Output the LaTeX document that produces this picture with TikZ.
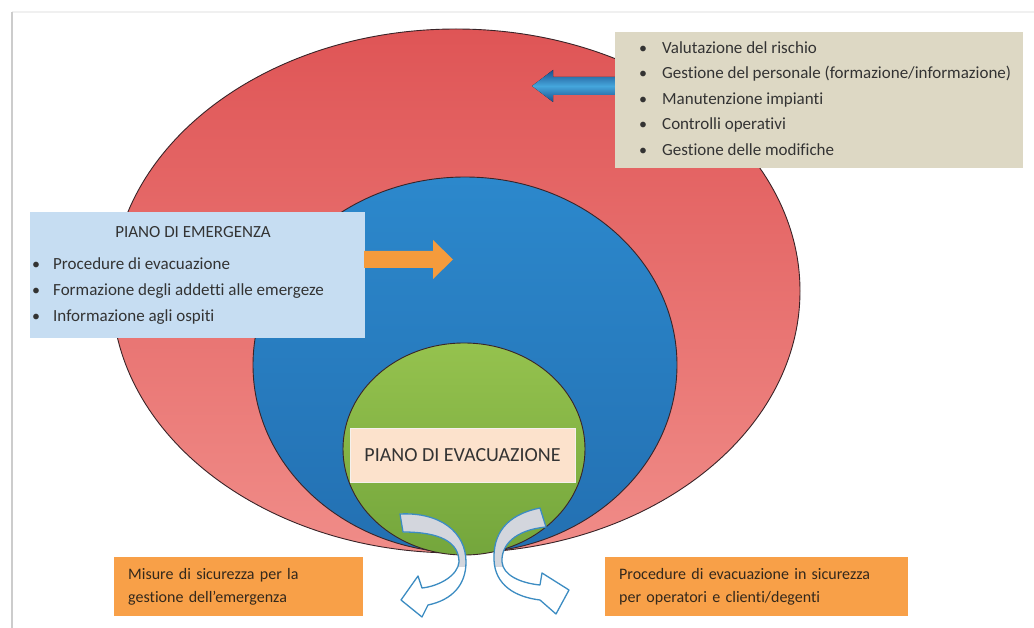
\documentclass[tikz,border=0pt]{standalone}
\usepackage{fontspec}
\setmainfont{Carlito}[Ligatures=NoCommon]
\usetikzlibrary{shapes.geometric}
\definecolor{redtop}{HTML}{DF5556}
\definecolor{redbot}{HTML}{F08C88}
\definecolor{bluetop}{HTML}{2C88CC}
\definecolor{bluebot}{HTML}{2370B2}
\definecolor{greentop}{HTML}{95C24E}
\definecolor{greenbot}{HTML}{74A63C}
\definecolor{beige}{HTML}{DDD8C4}
\definecolor{lightblue}{HTML}{C6DDF2}
\definecolor{peach}{HTML}{FCE2CC}
\definecolor{orangebox}{HTML}{F8A048}
\definecolor{orangearr}{HTML}{F59B3C}
\definecolor{txtgray}{HTML}{333333}
\definecolor{txtbrown}{HTML}{33281C}
\definecolor{navy}{HTML}{1B4F8C}
\definecolor{midblue}{HTML}{45A6DC}
\definecolor{arrgray}{HTML}{D3D6DD}
\definecolor{arrblue}{HTML}{3C8CC2}
\definecolor{outline}{HTML}{3A2428}
\newcommand{\curvL}[1]{\path[#1] (400,514) .. controls (440,512) and (466,532) .. (466,562) .. controls (466,585) and (452,600) .. (428,605) -- (422,617) -- (401,600) -- (418,576) -- (422,588) .. controls (440,586) and (458,575) .. (459,562) .. controls (459,542) and (440,532) .. (403,532) -- cycle;}
\newcommand{\curvR}[1]{\path[#1] (540,508) .. controls (505,515) and (493,535) .. (494,560) .. controls (495,585) and (515,597) .. (540,600) -- (556,614) -- (569,590) -- (542,573) -- (540,585) .. controls (520,583) and (503,575) .. (502,562) .. controls (501,545) and (515,530) .. (546,527) -- cycle;}
\begin{document}
\begin{tikzpicture}[x=1pt,y=-1pt,
  ell/.style={ellipse, draw=outline, line width=0.9pt, inner sep=0pt, outer sep=0pt},
  listbox/.style={rectangle, inner sep=0pt, outer sep=0pt, anchor=north west},
  itm/.style={anchor=base west, inner sep=0pt, text=txtgray, font=\fontsize{17}{20}\selectfont},
  bul/.style={anchor=base, inner sep=0pt, text=txtgray, font=\fontsize{16}{18}\selectfont},
  orbox/.style={rectangle, fill=orangebox, anchor=north west, inner xsep=14pt, inner ysep=0pt,
     align=left, text=txtbrown, font=\fontsize{16}{23}\selectfont},
]
\useasboundingbox (0,0) rectangle (1034,628);
\fill[white] (0,0) rectangle (1034,628);
\draw[gray!12, line width=1.5pt] (12,12) -- (1034,12);
\draw[gray!40, line width=2pt] (12,12) -- (12,628);

% nested ellipses
\node[ell, top color=redtop, bottom color=redbot, minimum width=688, minimum height=524] (risk) at (456,291) {};
\node[ell, top color=bluetop, bottom color=bluebot, minimum width=424, minimum height=376] (emerg) at (465,365) {};
\node[ell, top color=greentop, bottom color=greenbot, minimum width=242, minimum height=212] (evacell) at (464,449) {};

% blue arrow (behind beige box)
\fill[top color=navy, bottom color=navy, middle color=midblue]
  (620,77) -- (553,77) -- (553,70) -- (532,86) -- (553,102) -- (553,95) -- (620,95) -- cycle;

% beige box
\node[listbox, fill=beige, minimum width=408, minimum height=136] (riskbox) at (615,32) {};
\foreach \t [count=\i] in {Valutazione del rischio,
  Gestione del personale (formazione/informazione),
  Manutenzione impianti, Controlli operativi, Gestione delle modifiche}{
  \node[bul] (rb\i) at (643,{27.5+25.6*\i}) {•};
  \node[itm] (rt\i) at (662,{27.5+25.6*\i}) {\t};
}

% light blue box
\node[listbox, fill=lightblue, minimum width=335, minimum height=126] (emergbox) at (30,212) {};
\node[anchor=base, inner sep=0pt, text=txtgray, font=\fontsize{17}{20}\selectfont] (etitle) at (193,238) {PIANO DI EMERGENZA};
\foreach \t [count=\i] in {Procedure di evacuazione,
  Formazione degli addetti alle emergeze, Informazione agli ospiti}{
  \node[bul] (eb\i) at (36,{244+26*\i}) {•};
  \node[itm] (et\i) at (53,{244+26*\i}) {\t};
}

% orange arrow
\fill[orangearr] (364,251) -- (433,251) -- (433,240) -- (453,259.5) -- (433,279) -- (433,268) -- (364,268) -- cycle;

% evacuation label
\node[rectangle, fill=peach, draw=peach!80!black!20, minimum width=225, minimum height=54, inner sep=0pt,
  text=txtgray, font=\fontsize{20}{22}\selectfont] (evac) at (462.5,455) {PIANO DI EVACUAZIONE};

% curved arrows
\curvL{fill=white}
\curvR{fill=white}
\begin{scope}
  \clip (380,490) rectangle (600,566);
  \curvL{fill=arrgray}
  \curvR{fill=arrgray}
\end{scope}
\curvL{draw=arrblue, line width=1.3pt, line join=round}
\curvR{draw=arrblue, line width=1.3pt, line join=round}

% orange boxes
\node[orbox, text width=221, minimum height=59] (misure) at (114,557) {Misure di sicurezza per la\\gestione dell’emergenza};
\node[orbox, text width=275, minimum height=59] (proc) at (605,557) {Procedure di evacuazione in sicurezza\\per operatori e clienti/degenti};
\end{tikzpicture}
\end{document}
